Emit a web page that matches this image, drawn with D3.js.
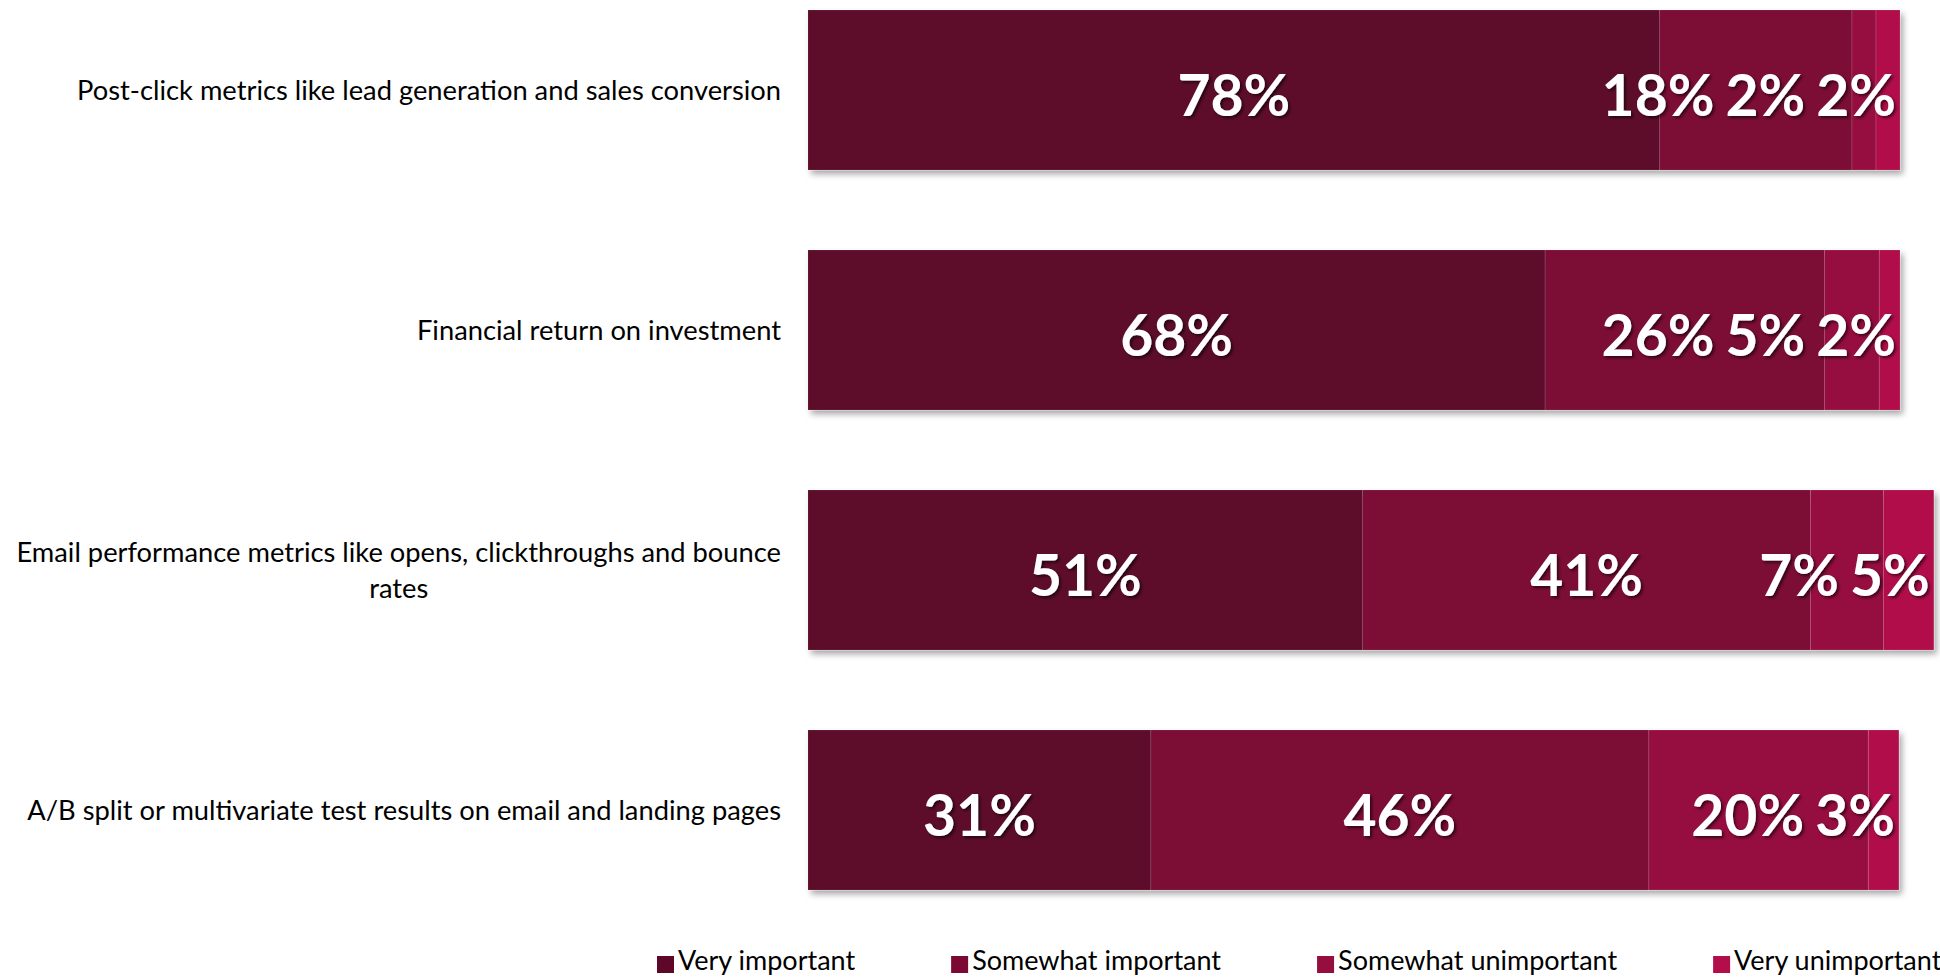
<!DOCTYPE html>
<html>
<head>
<meta charset="utf-8">
<script src="https://cdn.jsdelivr.net/npm/d3@7"></script>
<style>
  html, body { margin: 0; padding: 0; background: #ffffff; }
  svg { display: block; }
</style>
</head>
<body>
<svg id="chart" width="1940" height="977"></svg>
<script>
// ---- data ----
const categories = [
  "Post-click metrics like lead generation and sales conversion",
  "Financial return on investment",
  "Email performance metrics like opens, clickthroughs and bounce rates",
  "A/B split or multivariate test results on email and landing pages"
];
const seriesNames = ["Very important", "Somewhat important", "Somewhat unimportant", "Very unimportant"];
const veryImportant       = [78.0, 67.5, 50.8, 31.4];
const somewhatImportant   = [17.6, 25.6, 41.0, 45.6];
const somewhatUnimportant = [2.2, 5.0, 6.7, 20.1];
const veryUnimportant     = [2.2, 1.9, 4.6, 2.8];

const seriesColors = ["#5d0729", "#7b0934", "#960d40", "#b10e4b"];

// ---- build table ----
const table = categories.map((c, i) => ({
  category: c,
  "Very important": veryImportant[i],
  "Somewhat important": somewhatImportant[i],
  "Somewhat unimportant": somewhatUnimportant[i],
  "Very unimportant": veryUnimportant[i]
}));
const stacked = d3.stack().keys(seriesNames)(table);

const svg = d3.select("#chart");
const fontFamily = "Lato, 'Open Sans', sans-serif";

const x = d3.scaleLinear().domain([0, 100]).range([808, 1900]);
const y = d3.scaleBand().domain(categories).range([-30, 930])
  .paddingInner(1/3).paddingOuter(1/6);
const color = d3.scaleOrdinal().domain(seriesNames).range(seriesColors);

// ---- filters ----
const defs = svg.append("defs");
const barShadow = defs.append("filter").attr("id", "barShadow")
  .attr("x", "-5%").attr("y", "-10%").attr("width", "110%").attr("height", "130%");
barShadow.append("feDropShadow").attr("dx", 3).attr("dy", 4).attr("stdDeviation", 3)
  .attr("flood-color", "#000").attr("flood-opacity", 0.35);
const textShadow = defs.append("filter").attr("id", "textShadow")
  .attr("x", "-20%").attr("y", "-20%").attr("width", "140%").attr("height", "150%");
textShadow.append("feDropShadow").attr("dx", 2).attr("dy", 2).attr("stdDeviation", 1.5)
  .attr("flood-color", "#000").attr("flood-opacity", 0.6);

// ---- bars ----
const barGroups = svg.append("g").selectAll("g.bar")
  .data(categories).join("g").attr("class", "bar")
  .attr("filter", "url(#barShadow)");

barGroups.each(function(cat, i) {
  const g = d3.select(this);
  stacked.forEach(layer => {
    const d = layer[i];
    g.append("rect")
      .attr("x", x(d[0]))
      .attr("y", y(cat))
      .attr("width", x(d[1]) - x(d[0]))
      .attr("height", y.bandwidth())
      .attr("fill", color(layer.key))
      .attr("stroke", "rgba(255,255,255,0.12)")
      .attr("stroke-width", 1);
  });
});

// ---- value labels ----
const labelSize = 57, gap = 11;
const labelLayer = svg.append("g").attr("filter", "url(#textShadow)");
categories.forEach((cat, i) => {
  const cy = y(cat) + y.bandwidth() / 2;
  const barEnd = x(stacked[stacked.length - 1][i][1]);
  const items = stacked.map(layer => {
    const d = layer[i];
    const t = labelLayer.append("text")
      .attr("y", cy + 26)
      .attr("text-anchor", "middle")
      .attr("font-family", fontFamily)
      .attr("font-weight", "bold")
      .attr("font-size", labelSize)
      .attr("fill", "#ffffff")
      .text(Math.round(d[1] - d[0]) + "%");
    return { t, center: (x(d[0]) + x(d[1])) / 2, w: t.node().getComputedTextLength() };
  });
  let maxRight = barEnd - 4;
  for (let k = items.length - 1; k >= 0; k--) {
    const it = items[k];
    let right = Math.min(it.center + it.w / 2, maxRight);
    it.center = right - it.w / 2;
    maxRight = it.center - it.w / 2 - gap;
    it.t.attr("x", it.center);
  }
});

// ---- category labels ----
const catSize = 27.3, lineH = 36, maxW = 770, labelRight = 781;
const catLayer = svg.append("g");
categories.forEach(cat => {
  const cy = y(cat) + y.bandwidth() / 2;
  const words = cat.split(" ");
  const probe = catLayer.append("text").attr("font-family", fontFamily).attr("font-size", catSize);
  const lines = [];
  let cur = "";
  words.forEach(w => {
    const test = cur ? cur + " " + w : w;
    probe.text(test);
    if (probe.node().getComputedTextLength() > maxW && cur) {
      lines.push(cur); cur = w;
    } else cur = test;
  });
  lines.push(cur);
  const widths = lines.map(l => { probe.text(l); return probe.node().getComputedTextLength(); });
  probe.remove();
  const blockW = d3.max(widths);
  const midX = labelRight - blockW / 2;
  const firstBaseline = cy + 9.5 - (lines.length - 1) * lineH / 2;
  lines.forEach((l, k) => {
    catLayer.append("text")
      .attr("x", midX)
      .attr("y", firstBaseline + k * lineH)
      .attr("text-anchor", "middle")
      .attr("font-family", fontFamily)
      .attr("font-size", catSize)
      .attr("fill", "#000000")
      .text(l);
  });
});

// ---- legend ----
const legend = svg.append("g");
let lx = 657;
const legSize = 27, sq = 17, legBaseline = 970;
seriesNames.forEach(name => {
  legend.append("rect")
    .attr("x", lx).attr("y", legBaseline - 14)
    .attr("width", sq).attr("height", sq)
    .attr("fill", color(name));
  const t = legend.append("text")
    .attr("x", lx + sq + 4)
    .attr("y", legBaseline)
    .attr("font-family", fontFamily)
    .attr("font-size", legSize)
    .attr("fill", "#000000")
    .text(name);
  lx += sq + 4 + t.node().getComputedTextLength() + 96;
});
</script>
</body>
</html>
